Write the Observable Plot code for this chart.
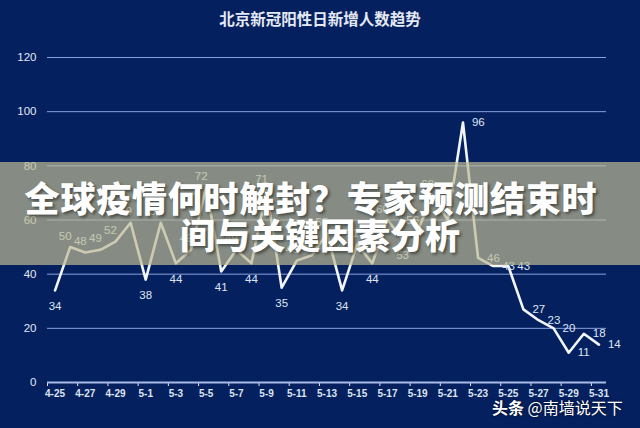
<!DOCTYPE html>
<html>
<head>
<meta charset="utf-8">
<script src="https://cdn.jsdelivr.net/npm/d3@7"></script>
<script src="https://cdn.jsdelivr.net/npm/@observablehq/plot@0.6"></script>
<style>
html, body { margin: 0; padding: 0; background: #05205f; }
#wrap { position: relative; width: 640px; height: 428px; overflow: hidden; background: #05205f; }
#title { height: 40px; line-height: 36px; text-align: center; color: #e4e9f4; font-size: 15.5px; font-weight: bold; font-family: "Noto Sans CJK SC", sans-serif; }
#chart svg { display: block; }
#banner { position: absolute; left: 0; top: 162px; width: 640px; height: 103px; background: rgba(190,186,148,0.7); }
#btext { position: absolute; left: 0; top: 162px; width: 640px; padding-top: 16px; text-align: center; color: #ffffff; font-family: "Noto Sans CJK SC", sans-serif; font-weight: 900; font-size: 35px; line-height: 37px; text-shadow: 2px 2px 3px rgba(0,0,0,0.45); }
#btext .l1 { display: block; position: relative; left: -9px; letter-spacing: 0.8px; }
#btext .l2 { display: block; }
#wm { position: absolute; left: 492px; top: 397px; color: #ffffff; font-family: "Noto Sans CJK SC", sans-serif; font-size: 16px; line-height: 20px; text-shadow: 0 0 3px rgba(0,0,0,0.7); white-space: nowrap; }
#wm b { font-weight: bold; }
</style>
</head>
<body>
<div id="wrap">
  <div id="title"></div>
  <div id="chart"></div>
  <div id="banner"></div>
  <div id="btext"></div>
  <div id="wm"><b>头条</b> @南墙说天下</div>
</div>
<script>
const chartTitle = "北京新冠阳性日新增人数趋势";
const bannerLines = ["全球疫情何时解封？专家预测结束时", "间与关键因素分析"];
const dates = ["4-25","4-26","4-27","4-28","4-29","4-30",
  "5-1","5-2","5-3","5-4","5-5","5-6","5-7","5-8","5-9","5-10",
  "5-11","5-12","5-13","5-14","5-15","5-16","5-17","5-18","5-19","5-20",
  "5-21","5-22","5-23","5-24","5-25","5-26","5-27","5-28","5-29","5-30","5-31"];
const values = [34,50,48,49,52,59,38,59,44,49,72,41,49,44,71,35,45,47,55,34,51,44,60,53,56,69,60,96,46,43,43,27,23,20,11,18,14];
const yTicks = [0,20,40,60,80,100,120];

document.getElementById("title").textContent = chartTitle;
const bt = document.getElementById("btext");
bannerLines.forEach((t, k) => {
  const s = document.createElement("span");
  s.className = "l" + (k + 1);
  s.textContent = t;
  bt.appendChild(s);
});

const data = dates.map((d, i) => {
  const v = values[i];
  const prev = i > 0 ? values[i - 1] : Infinity;
  const next = i < values.length - 1 ? values[i + 1] : Infinity;
  const isMin = (prev - v) >= 3 && (next - v) >= 3;
  const tail = i >= 27;
  return {i, d, v, pos: tail ? "tail" : (isMin ? "below" : "above")};
});
const xLabels = data.filter(r => r.i % 2 === 0);
const boundaries = d3.range(-0.5, dates.length - 1, 2);

const labelStyle = {x: "i", y: "v", text: r => String(r.v), fill: "#dfe6f3", fontSize: 11.5};

const chart = Plot.plot({
  width: 640,
  height: 388,
  marginTop: 17,
  marginRight: 34,
  marginBottom: 46,
  marginLeft: 47,
  style: {background: "transparent", color: "#e2e8f4", fontFamily: "Liberation Sans, Arial, sans-serif", fontSize: "11.5px"},
  x: {type: "linear", domain: [-0.5, dates.length - 0.5], ticks: boundaries, tickFormat: () => "", tickSize: 4, label: null},
  y: {domain: [0, 120], ticks: yTicks, tickSize: 0, tickPadding: 11, label: null},
  marks: [
    Plot.ruleY(yTicks.filter(t => t > 0), {stroke: "#8aa2dc", strokeWidth: 1}),
    Plot.ruleY([0], {stroke: "#a9bbe8", strokeWidth: 2}),
    Plot.line(data, {x: "i", y: "v", stroke: "#f2f5fa", strokeWidth: 2.6}),
    Plot.text(data, {...labelStyle, filter: r => r.pos === "above", dx: -5, dy: -11}),
    Plot.text(data, {...labelStyle, filter: r => r.pos === "below", dy: 16}),
    Plot.text(data, {...labelStyle, filter: r => r.pos === "tail", textAnchor: "start", dx: 9, dy: 0}),
    Plot.text(xLabels, {x: "i", text: "d", frameAnchor: "bottom", dy: 14, fontSize: 10, fill: "#dde4f2", fontWeight: "bold"})
  ]
});
document.getElementById("chart").appendChild(chart);
</script>
</body>
</html>
